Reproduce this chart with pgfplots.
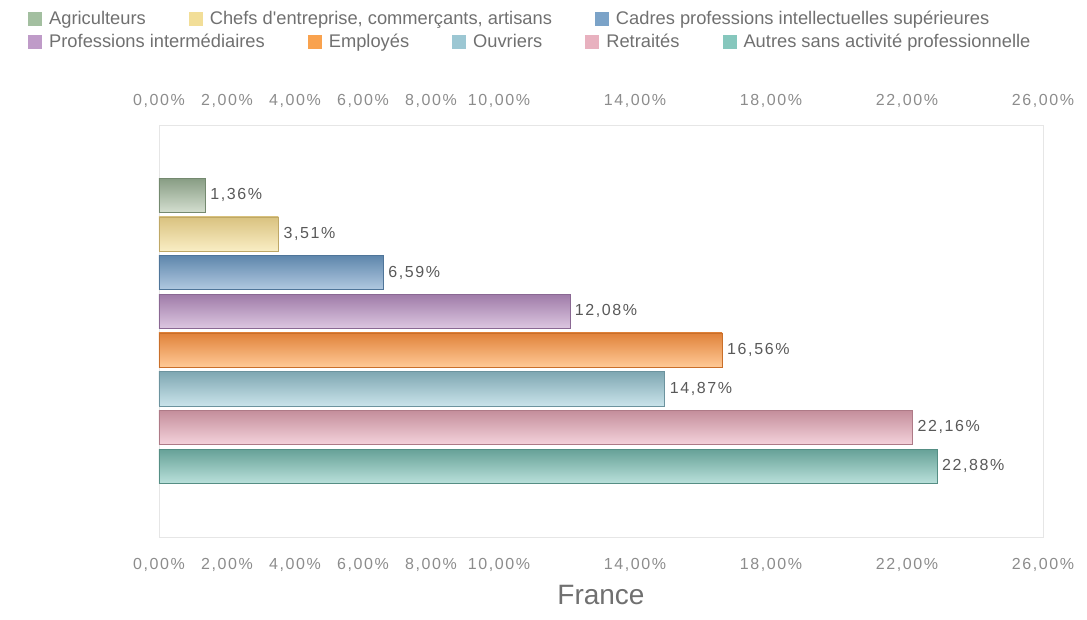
\documentclass[border=0pt]{standalone}
\usepackage{fontspec}
\setmainfont{Liberation Sans}
\newfontfamily\spaced{Liberation Sans}[LetterSpace=10]
\usepackage{pgfplots}
\pgfplotsset{compat=1.18}

% legend swatches
\definecolor{cAgri}{HTML}{A3BFA0}
\definecolor{cChef}{HTML}{F2DE98}
\definecolor{cCadr}{HTML}{7BA3C8}
\definecolor{cProf}{HTML}{BF9BC8}
\definecolor{cEmpl}{HTML}{F9A24E}
\definecolor{cOuvr}{HTML}{9CC7D3}
\definecolor{cRetr}{HTML}{E8B1BF}
\definecolor{cAutr}{HTML}{86C7BD}
% bar gradients (top / bottom / edge)
\definecolor{tAgri}{HTML}{879C83}\definecolor{bAgri}{HTML}{D3DECF}\definecolor{eAgri}{HTML}{74896F}
\definecolor{tChef}{HTML}{D9C27F}\definecolor{bChef}{HTML}{F9EDC4}\definecolor{eChef}{HTML}{BFA866}
\definecolor{tCadr}{HTML}{5E86AC}\definecolor{bCadr}{HTML}{B1C9E0}\definecolor{eCadr}{HTML}{4F7599}
\definecolor{tProf}{HTML}{9F7BA8}\definecolor{bProf}{HTML}{DCC6E0}\definecolor{eProf}{HTML}{8A6893}
\definecolor{tEmpl}{HTML}{E0823A}\definecolor{bEmpl}{HTML}{FFC996}\definecolor{eEmpl}{HTML}{C96F2A}
\definecolor{tOuvr}{HTML}{7FA7B2}\definecolor{bOuvr}{HTML}{C9E3EA}\definecolor{eOuvr}{HTML}{6C939E}
\definecolor{tRetr}{HTML}{C48E9B}\definecolor{bRetr}{HTML}{F4D2DB}\definecolor{eRetr}{HTML}{AE7A87}
\definecolor{tAutr}{HTML}{66A197}\definecolor{bAutr}{HTML}{B9E0DA}\definecolor{eAutr}{HTML}{558E84}
\definecolor{tickgray}{HTML}{8C8C8C}
\definecolor{textgray}{HTML}{707070}
\definecolor{labelgray}{HTML}{595959}
\definecolor{framegray}{HTML}{E6E6E6}

\pgfplotsset{
  base/.style={
    scale only axis, width=884pt, height=412pt,
    xmin=0, xmax=26, ymin=-0.83, ymax=9.81,
    xtick={0,2,4,6,8,10,14,18,22,26},
    xticklabel={\pgfmathprintnumber[fixed,fixed zerofill,precision=2,use comma,assume math mode=true]{\tick}\%},
    ytick=\empty, major tick length=0pt,
    tick label style={font=\spaced\fontsize{16}{18}\selectfont, text=tickgray},
    legend style={draw=none, fill=none, font=\fontsize{18.3}{21}\selectfont, text=textgray,
      legend columns=-1, anchor=west, at={(0,1)},
      /tikz/every odd column/.append style={column sep=5pt},
      /tikz/every even column/.append style={column sep=41pt}},
  },
  swatch/.style={legend image code/.code={\fill[##1, draw=none] (0pt,-7pt) rectangle (14pt,7pt);}},
}

\begin{document}
\begin{tikzpicture}
\begin{axis}[base, name=ax,
  xbar, bar width=0.88, bar shift=0pt,
  swatch,
  axis line style={draw=framegray},
  xticklabel pos=lower,
  every x tick label/.append style={yshift=-18pt},
  nodes near coords={\pgfmathprintnumber[fixed,fixed zerofill,precision=2,use comma,assume math mode=true]{\pgfplotspointmeta}\%},
  nodes near coords style={font=\spaced\fontsize{16}{18}\selectfont, text=labelgray, inner sep=2pt, xshift=3pt},
  xlabel={France},
  xlabel style={at={(axis description cs:0.5,0)}, anchor=center, yshift=-58pt,
    font=\fontsize{28}{32}\selectfont, text=textgray},
  legend style={xshift=-134pt, yshift=106pt},
]
\addplot[forget plot, top color=tAgri, bottom color=bAgri, draw=eAgri] coordinates {(1.36,8)};
\addplot[forget plot, top color=tChef, bottom color=bChef, draw=eChef] coordinates {(3.51,7)};
\addplot[forget plot, top color=tCadr, bottom color=bCadr, draw=eCadr] coordinates {(6.59,6)};
\addplot[forget plot, top color=tProf, bottom color=bProf, draw=eProf] coordinates {(12.08,5)};
\addplot[forget plot, top color=tEmpl, bottom color=bEmpl, draw=eEmpl] coordinates {(16.56,4)};
\addplot[forget plot, top color=tOuvr, bottom color=bOuvr, draw=eOuvr] coordinates {(14.87,3)};
\addplot[forget plot, top color=tRetr, bottom color=bRetr, draw=eRetr] coordinates {(22.16,2)};
\addplot[forget plot, top color=tAutr, bottom color=bAutr, draw=eAutr] coordinates {(22.88,1)};
\addlegendimage{fill=cAgri}\addlegendentry{Agriculteurs}
\addlegendimage{fill=cChef}\addlegendentry{Chefs d\textquotesingle entreprise, commerçants, artisans\hspace{3pt}}
\addlegendimage{fill=cCadr}\addlegendentry{Cadres professions intellectuelles supérieures}
\end{axis}
\begin{axis}[base, swatch,
  axis line style={draw=none},
  xticklabel pos=upper,
  every x tick label/.append style={yshift=14pt},
  legend style={xshift=-134pt, yshift=83pt},
]
\addlegendimage{fill=cProf}\addlegendentry{Professions intermédiaires\hspace{7pt}}
\addlegendimage{fill=cEmpl}\addlegendentry{Employés\hspace{5pt}}
\addlegendimage{fill=cOuvr}\addlegendentry{Ouvriers\hspace{5pt}}
\addlegendimage{fill=cRetr}\addlegendentry{Retraités}
\addlegendimage{fill=cAutr}\addlegendentry{Autres sans activité professionnelle}
\end{axis}
\pgfresetboundingbox
\path[use as bounding box] ([xshift=-159pt,yshift=-82pt]ax.south west) rectangle ([xshift=44pt,yshift=125pt]ax.north east);
\end{tikzpicture}
\end{document}
